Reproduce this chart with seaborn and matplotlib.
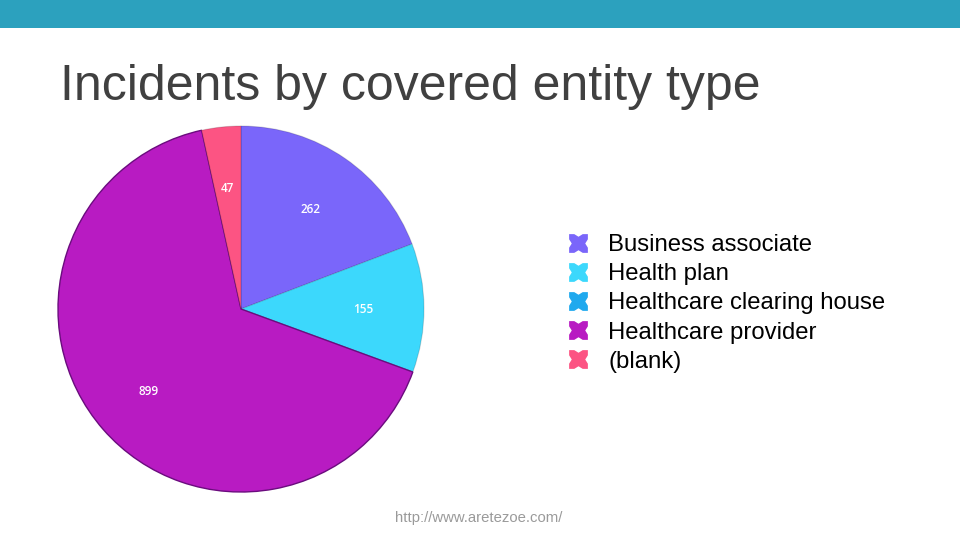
import matplotlib
matplotlib.use("Agg")
import matplotlib.pyplot as plt
import seaborn as sns
import numpy as np
from matplotlib.lines import Line2D
from matplotlib.patches import Rectangle

categories = ["Business associate", "Health plan", "Healthcare clearing house",
              "Healthcare provider", "(blank)"]
values = [262, 155, 0, 899, 47]
hex_colors = ["#7A66FA", "#3CD8FC", "#1FA9EE", "#B81BC2", "#FC5483"]
title = "Incidents by covered entity type"
source = "http://www.aretezoe.com/"

sns.set_theme(style="white")
plt.rcParams["font.family"] = ["Liberation Sans", "DejaVu Sans"]
palette = sns.color_palette(hex_colors)

fig = plt.figure(figsize=(9.6, 5.4), dpi=100)
fig.patch.set_facecolor("white")

# header bar
fig.add_artist(Rectangle((0, 1 - 28 / 540), 1, 28 / 540, transform=fig.transFigure,
                         facecolor="#2CA1BE", edgecolor="none"))

fig.text(60 / 960, 1 - 100 / 540, title, fontsize=36, color="#404040",
         ha="left", va="baseline")

ax = fig.add_axes([58 / 960, 48 / 540, 366 / 960, 366 / 540])
wedges, _ = ax.pie(values, colors=palette, startangle=90, counterclock=False,
                   wedgeprops=dict(linewidth=0.8, edgecolor="none"))
for w in wedges:
    w.set_edgecolor((0, 0, 0, 0.15))
wedges[3].set_edgecolor("#6B0C7E")
wedges[3].set_linewidth(1.0)

total = sum(values)
cum = 0.0
for v in values:
    if v > 0:
        mid = 90 - (cum + v / 2) / total * 360
        r = 0.67
        ax.text(r * np.cos(np.radians(mid)), r * np.sin(np.radians(mid)) - 0.008, str(v),
                ha="center", va="center", color="white", fontsize=8.5,
                fontweight="semibold", family=["Open Sans", "DejaVu Sans"])
    cum += v
ax.set_xlim(-1, 1)
ax.set_ylim(-1, 1)
ax.set_aspect("equal")
ax.axis("off")

# legend icon: square with four inward notches
icon = [(-1, -1), (-0.45, -1), (0, -0.72), (0.45, -1), (1, -1), (1, -0.45), (0.72, 0),
        (1, 0.45), (1, 1), (0.45, 1), (0, 0.72), (-0.45, 1), (-1, 1), (-1, 0.45),
        (-0.72, 0), (-1, -0.45), (-1, -1)]
handles = [Line2D([], [], linestyle="none", marker=icon, markersize=13.5,
                  markerfacecolor=c, markeredgecolor="none") for c in palette]
fig.legend(handles, categories, loc="upper left",
           bbox_to_anchor=(566 / 960, 1 - 234 / 540), frameon=False,
           fontsize=17.2, handlelength=1.0, handletextpad=0.77, labelspacing=0.30,
           borderpad=0, borderaxespad=0, labelcolor="#000000")

fig.text(479 / 960, 1 - 522 / 540, source, fontsize=10.7, color="#9A9A9A",
         ha="center", va="baseline")

fig.savefig("out.png", dpi=100)
